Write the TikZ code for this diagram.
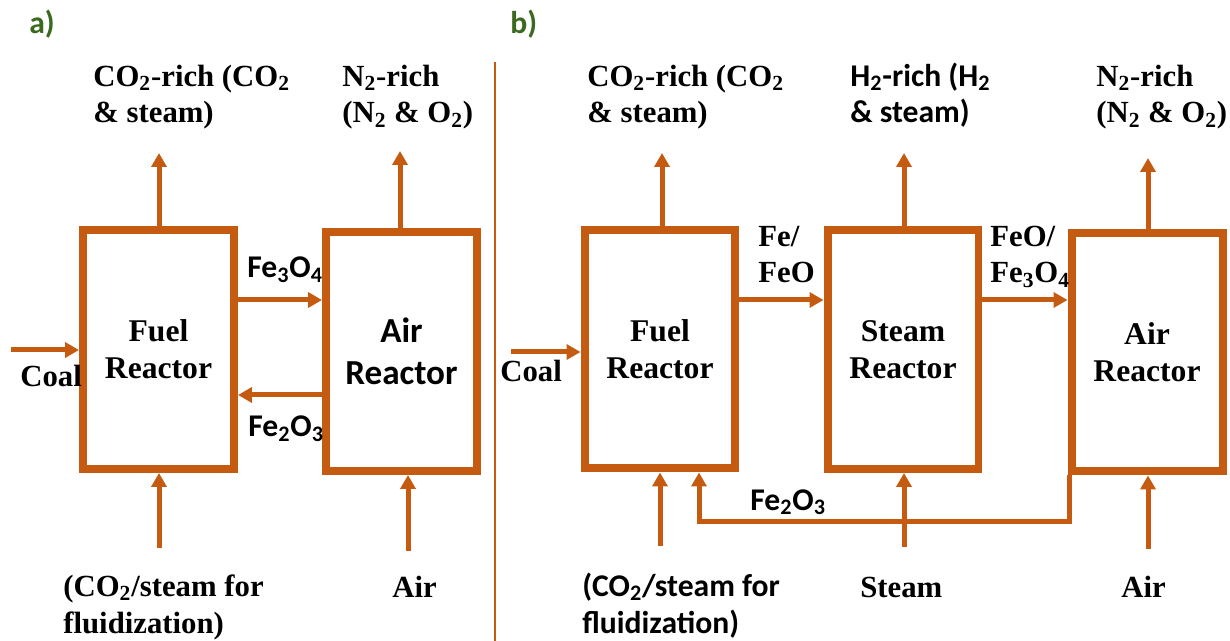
\documentclass[tikz,border=0pt]{standalone}
\usepackage{fontspec}
\setmainfont{Liberation Serif}
\newfontfamily\calibri{Carlito}
\usetikzlibrary{arrows.meta,positioning}
\definecolor{rust}{HTML}{C55A11}
\definecolor{tagGreen}{HTML}{3B6A1F}
\begin{document}
\begin{tikzpicture}[x=0.02cm,y=-0.02cm]
\tikzstyle{reactor}=[draw=rust,line width=0.16cm,minimum width=3.02cm,minimum height=4.78cm,inner sep=0pt,align=center,font=\fontsize{18}{21}\selectfont\bfseries]
\tikzstyle{flow}=[rust,line width=0.1cm,-{Triangle[length=0.28cm,width=0.3cm]}]
\tikzstyle{txt}=[inner sep=0pt,anchor=base west,align=left,font=\fontsize{17.5}{21}\selectfont\bfseries]
\tikzstyle{sanstxt}=[txt,font=\fontsize{18}{21}\selectfont\calibri\bfseries]
\tikzstyle{tag}=[sanstxt,text=tagGreen]
\useasboundingbox (0,0) rectangle (1230,641);

% panel tags and divider
\node[tag] (tagA) at (29,34) {a)};
\node[tag] (tagB) at (510,34) {b)};
\coordinate (divTop) at (495,62);
\coordinate (divBot) at (495,641);
\draw[rust,line width=0.04cm] (divTop) -- (divBot);

% a) fuel reactor + air reactor
\node[reactor] (fuelA) at (158.5,349.5) {Fuel\\Reactor};
\node[reactor,font=\fontsize{20}{24}\selectfont\calibri\bfseries] (airA) at (401.5,351.5) {Air\\Reactor};
\node[txt] (gasA1) at (93,123) {CO\textsubscript{2}-rich (CO\textsubscript{2}\\\& steam)};
\node[txt] (gasA2) at (342,123) {N\textsubscript{2}-rich\\(N\textsubscript{2} \& O\textsubscript{2})};
\node[txt] (feedA1) at (63,633) {(CO\textsubscript{2}/steam for\\fluidization)};
\node[txt] (feedA2) at (392,597) {Air};
\node[txt] (coalA) at (20,387) {Coal};
\node[sanstxt] (oxA1) at (247,278) {Fe\textsubscript{3}O\textsubscript{4}};
\node[sanstxt] (oxA2) at (248,437) {Fe\textsubscript{2}O\textsubscript{3}};
\coordinate (upA1) at (159,153);
\coordinate (upA2) at (400,151);
\coordinate (inA1) at (159,548);
\coordinate (inA2) at (408,551);
\coordinate (coalInA) at (11,350);
\coordinate (fwdA) at (0,300);
\coordinate (backA) at (0,395);
\draw[flow] (fuelA.north -| upA1) -- (upA1);
\draw[flow] (airA.north -| upA2) -- (upA2);
\draw[flow] (inA1) -- (fuelA.south -| inA1);
\draw[flow] (inA2) -- (airA.south -| inA2);
\draw[flow] (coalInA) -- (fuelA.west |- coalInA);
\draw[flow] (fuelA.east |- fwdA) -- (airA.west |- fwdA);
\draw[flow] (airA.west |- backA) -- (fuelA.east |- backA);

% b) fuel reactor + steam reactor + air reactor
\node[reactor] (fuelB) at (660,349) {Fuel\\Reactor};
\node[reactor] (steamB) at (903,349.5) {Steam\\Reactor};
\node[reactor] (airB) at (1147,352) {Air\\Reactor};
\node[txt] (gasB1) at (587,123) {CO\textsubscript{2}-rich (CO\textsubscript{2}\\\& steam)};
\node[sanstxt] (gasB2) at (850,123) {H\textsubscript{2}-rich (H\textsubscript{2}\\\& steam)};
\node[txt] (gasB3) at (1096,123) {N\textsubscript{2}-rich\\(N\textsubscript{2} \& O\textsubscript{2})};
\node[sanstxt] (feedB1) at (582,633) {(CO\textsubscript{2}/steam for\\fluidization)};
\node[txt] (feedB2) at (860,597) {Steam};
\node[txt] (feedB3) at (1121,597) {Air};
\node[txt] (coalB) at (500,382) {Coal};
\node[txt] (oxB1) at (758,283) {Fe/\\FeO};
\node[txt] (oxB2) at (990,283) {FeO/\\Fe\textsubscript{3}O\textsubscript{4}};
\node[sanstxt] (oxB3) at (750,510) {Fe\textsubscript{2}O\textsubscript{3}};
\coordinate (upB1) at (662,153);
\coordinate (upB2) at (904,153);
\coordinate (upB3) at (1148,158);
\coordinate (inB1) at (660,546);
\coordinate (inB2) at (904,547);
\coordinate (inB3) at (1148,549);
\coordinate (coalInB) at (511,352);
\coordinate (fwdB) at (0,300);
\coordinate (retR) at (1069,521);
\coordinate (retL) at (699,521);
\draw[flow] (fuelB.north -| upB1) -- (upB1);
\draw[flow] (steamB.north -| upB2) -- (upB2);
\draw[flow] (airB.north -| upB3) -- (upB3);
\draw[flow] (inB1) -- (fuelB.south -| inB1);
\draw[flow] (inB2) -- (steamB.south -| inB2);
\draw[flow] (inB3) -- (airB.south -| inB3);
\draw[flow] (coalInB) -- (fuelB.west |- coalInB);
\draw[flow] (fuelB.east |- fwdB) -- (steamB.west |- fwdB);
\draw[flow] (steamB.east |- fwdB) -- (airB.west |- fwdB);
\draw[flow] (airB.south -| retR) -- (retR) -- (retL) -- (fuelB.south -| retL);
\end{tikzpicture}
\end{document}
